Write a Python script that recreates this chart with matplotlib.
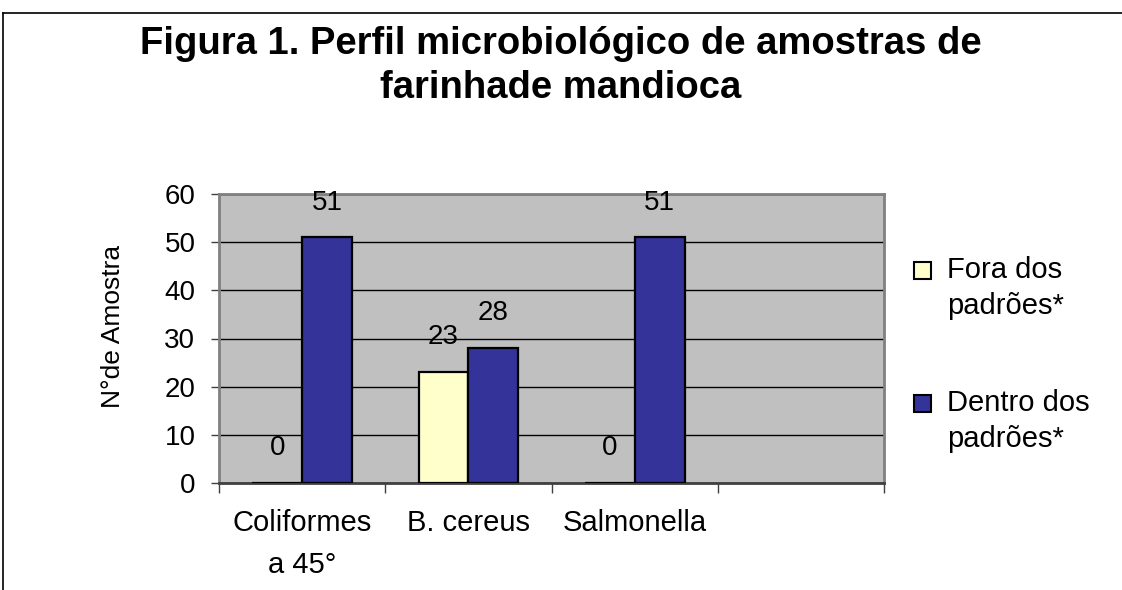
import numpy as np
import matplotlib.pyplot as plt
import matplotlib as mpl
from matplotlib.lines import Line2D
from matplotlib.patches import Rectangle

mpl.rcParams['font.family'] = ['Liberation Sans', 'DejaVu Sans']

# Data
categorias = ['Coliformes\na 45°', 'B. cereus', 'Salmonella', '']
fora = [0, 23, 0]
dentro = [51, 28, 51]
series_nomes = ['Fora dos\npadrões*', 'Dentro dos\npadrões*']
cores = ['#FFFFCC', '#333399']
y_ticks = [0, 10, 20, 30, 40, 50, 60]

W, H = 1122, 590
fig = plt.figure(figsize=(W/100, H/100), dpi=100)
ax = fig.add_axes([219/W, 1-483/H, 665/W, 289/H])
ax.set_facecolor('#C0C0C0')

x = np.arange(len(fora))
w = 0.3
b1 = ax.bar(x - w/2, fora, w, color=cores[0], edgecolor='black', linewidth=1.6, zorder=3)
b2 = ax.bar(x + w/2, dentro, w, color=cores[1], edgecolor='black', linewidth=1.6, zorder=3)

for bars, vals in ((b1, fora), (b2, dentro)):
    for r, v in zip(bars, vals):
        ax.annotate(str(v), (r.get_x() + r.get_width()/2, v), xytext=(0, 25),
                    textcoords='offset points', ha='center', va='center', fontsize=20)

ax.set_xlim(-0.5, len(categorias) - 0.5)
ax.set_ylim(0, 60)
ax.set_yticks(y_ticks)
ax.tick_params(axis='y', labelsize=20, length=6, width=1, color='#404040', pad=11)
ax.set_xticks(np.arange(len(categorias) + 1) - 0.5)
ax.set_xticklabels([])
ax.tick_params(axis='x', length=7, width=1, color='#404040')
for i, lab in enumerate(categorias):
    ax.text(i, -5.5, lab, ha='center', va='top', fontsize=21, linespacing=1.62)

ax.yaxis.grid(True, color='black', linewidth=1, zorder=1)
ax.set_axisbelow(True)
for s in ax.spines.values():
    s.set_color('#808080')
    s.set_linewidth(2)
ax.spines['bottom'].set_color('#404040')

ax.set_ylabel('N°de Amostra', fontsize=19)
ax.yaxis.set_label_coords(-0.141, 0.543)

# legend (square aligned with first line of each label)
leg_y = [271, 404]
for c, nome, yy in zip(cores, series_nomes, leg_y):
    fig.add_artist(Rectangle((914/W, 1-(yy+8)/H), 17/W, 17/H, facecolor=c,
                             edgecolor='black', linewidth=1.5, transform=fig.transFigure))
    fig.text(947/W, 1-(yy-15)/H, nome, ha='left', va='top', fontsize=21, linespacing=1.38)

fig.text(0.5, 1-44/H, 'Figura 1. Perfil microbiológico de amostras de', ha='center',
         va='center', fontsize=27.5, fontweight='bold')
fig.text(0.5, 1-88/H, 'farinhade mandioca', ha='center', va='center',
         fontsize=27.5, fontweight='bold')

# chart area border
fig.add_artist(Line2D([3/W, 3/W], [0, 1-13/H], color='black', linewidth=1.2))
fig.add_artist(Line2D([3/W, 1], [1-13/H, 1-13/H], color='black', linewidth=1.2))

plt.savefig('out.png', dpi=100)
